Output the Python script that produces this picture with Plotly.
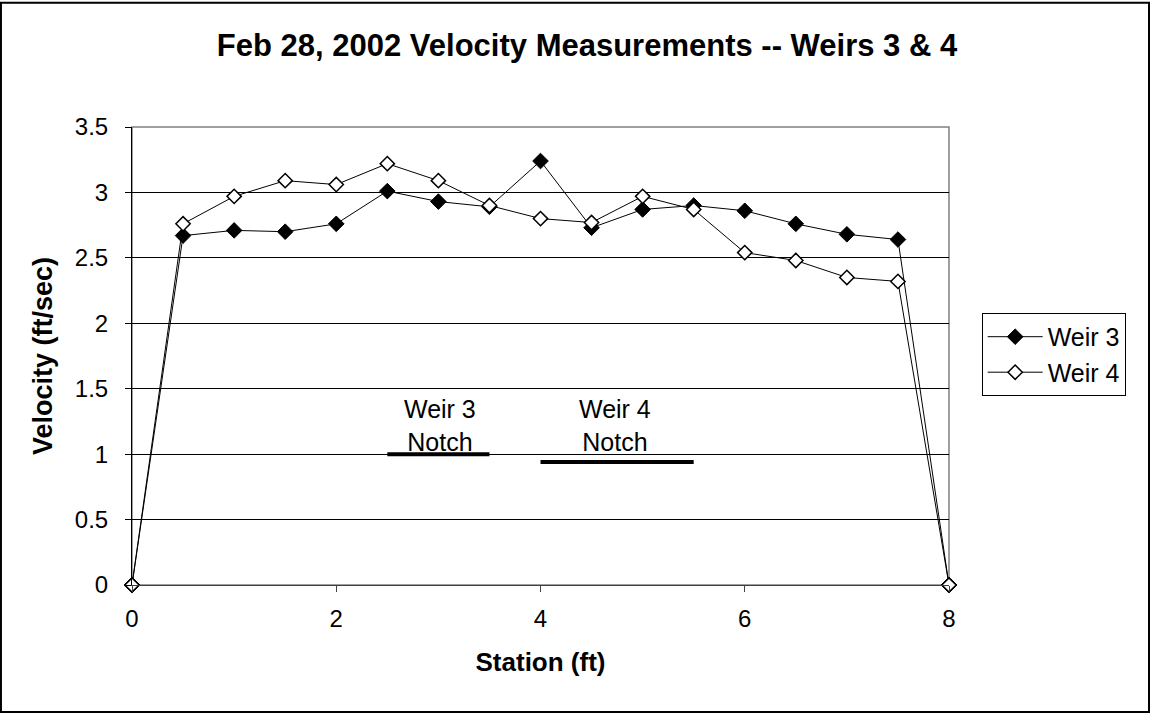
import plotly.graph_objects as go

# ── data ──
station = [0, 0.5, 1, 1.5, 2, 2.5, 3, 3.5, 4, 4.5, 5, 5.5, 6, 6.5, 7, 7.5, 8]
weir3 = [0, 2.67, 2.71, 2.70, 2.76, 3.01, 2.93, 2.89, 3.24, 2.73, 2.87, 2.90,
         2.86, 2.76, 2.68, 2.64, 0]
weir4 = [0, 2.76, 2.97, 3.09, 3.06, 3.22, 3.09, 2.90, 2.80, 2.77, 2.97, 2.87,
         2.54, 2.48, 2.35, 2.32, 0]

notch3_x = [2.5, 3.5]
notch3_y = [1.0, 1.0]
notch4_x = [4.0, 5.5]
notch4_y = [0.94, 0.94]

FONT = "Arial, Liberation Sans, sans-serif"

fig = go.Figure()

fig.add_trace(go.Scatter(
    x=station, y=weir3, name="Weir 3", mode="lines+markers", cliponaxis=False,
    line=dict(color="black", width=1),
    marker=dict(symbol="diamond", size=12, color="black",
                line=dict(color="black", width=1)),
))
fig.add_trace(go.Scatter(
    x=station, y=weir4, name="Weir 4", mode="lines+markers", cliponaxis=False,
    line=dict(color="black", width=1),
    marker=dict(symbol="diamond", size=11, color="white",
                line=dict(color="black", width=1.5)),
))

# notch bars
for nx, ny in [(notch3_x, notch3_y), (notch4_x, notch4_y)]:
    fig.add_trace(go.Scatter(
        x=nx, y=ny, mode="lines", showlegend=False, hoverinfo="skip",
        line=dict(color="black", width=4),
    ))

fig.add_annotation(x=3.02, y=1.22, text="Weir 3<br>Notch", showarrow=False,
                   font=dict(family=FONT, size=25, color="black"))
fig.add_annotation(x=4.73, y=1.22, text="Weir 4<br>Notch", showarrow=False,
                   font=dict(family=FONT, size=25, color="black"))

fig.update_layout(
    width=1151, height=714,
    margin=dict(l=132, r=202, t=127, b=129),
    paper_bgcolor="white", plot_bgcolor="white",
    font=dict(family=FONT, color="black", size=24),
    title=dict(text="<b>Feb 28, 2002 Velocity Measurements -- Weirs 3 & 4</b>",
               x=0.51, xanchor="center", y=0.937, yanchor="middle",
               font=dict(family=FONT, size=31, color="black")),
    xaxis=dict(range=[0, 8], tickvals=[0, 2, 4, 6, 8], showgrid=False,
               zeroline=False, showline=True, linecolor="#404040", linewidth=1,
               ticks="outside", ticklen=6, tickcolor="#404040",
               ticklabelstandoff=6,
               title=dict(text="<b>Station (ft)</b>",
                          font=dict(family=FONT, size=26), standoff=22),
               tickfont=dict(family=FONT, size=24)),
    yaxis=dict(range=[0, 3.5], dtick=0.5, showgrid=True, gridcolor="black",
               gridwidth=1, zeroline=False, showline=True, linecolor="black",
               linewidth=1, ticks="outside", ticklen=6, tickcolor="black",
               ticklabelstandoff=12,
               title=dict(text="<b>Velocity (ft/sec)</b>",
                          font=dict(family=FONT, size=27), standoff=14),
               tickfont=dict(family=FONT, size=24)),
    legend=dict(x=1.04, y=0.594, xanchor="left", yanchor="top",
                bordercolor="black", borderwidth=1, bgcolor="white",
                itemwidth=55, font=dict(family=FONT, size=25)),
    shapes=[
        # plot area border (grey, Excel style)
        dict(type="rect", xref="paper", yref="paper", x0=0, x1=1, y0=0, y1=1,
             line=dict(color="#808080", width=1.5), layer="below"),
        # outer chart border
        dict(type="rect", xref="paper", yref="paper",
             x0=-0.1604, x1=1.2448, y0=-0.2773, y1=1.2713,
             line=dict(color="black", width=2), layer="below"),
    ],
)

fig.write_html("out.html", config={"displayModeBar": False},
               post_script="document.body.style.margin='0';")
